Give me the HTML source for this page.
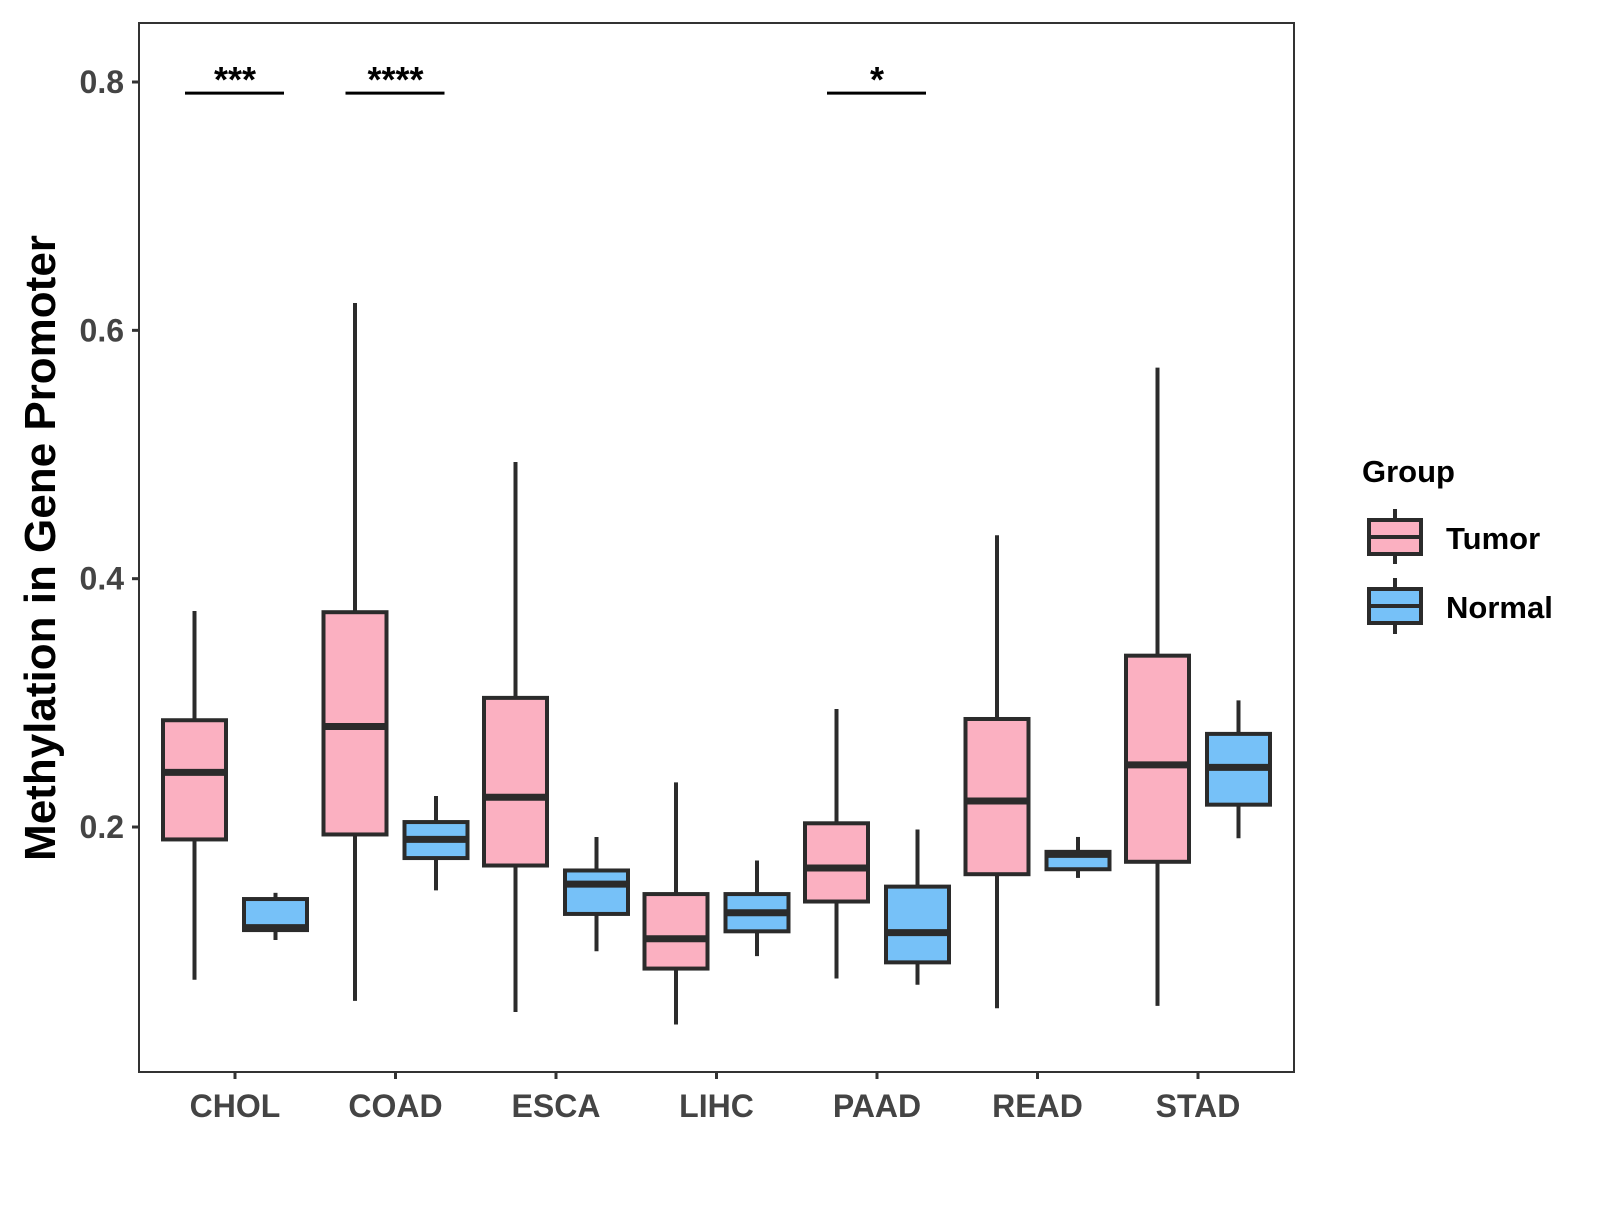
<!DOCTYPE html>
<html><head><meta charset="utf-8"><style>
body{margin:0;background:#fff}
svg text{font-family:"Liberation Sans",Arial,sans-serif;font-weight:bold}
</style></head><body>
<svg id="chart" width="1600" height="1200">
<rect x="139" y="23" width="1155" height="1049" fill="none" stroke="#333" stroke-width="2"/>
<g id="marks"></g>
<text transform="translate(55,548) rotate(-90)" text-anchor="middle" font-size="44" fill="#000">Methylation in Gene Promoter</text>
<g>
<text x="1362" y="482" font-size="31" fill="#000">Group</text>
<g>
<line x1="1395" y1="509" x2="1395" y2="564" stroke="#2b2b2b" stroke-width="4"/>
<rect x="1369" y="520" width="52" height="34" fill="#FBB0C1" stroke="#2b2b2b" stroke-width="4"/>
<line x1="1369" y1="537" x2="1421" y2="537" stroke="#2b2b2b" stroke-width="4"/>
<text x="1446" y="549" font-size="31" fill="#000">Tumor</text></g>
<g>
<line x1="1395" y1="578" x2="1395" y2="634" stroke="#2b2b2b" stroke-width="4"/>
<rect x="1369" y="589" width="52" height="34" fill="#76C1F8" stroke="#2b2b2b" stroke-width="4"/>
<line x1="1369" y1="606" x2="1421" y2="606" stroke="#2b2b2b" stroke-width="4"/>
<text x="1446" y="618" font-size="31" fill="#000">Normal</text></g>
</g>
</svg>
<script>
const categories=["CHOL","COAD","ESCA","LIHC","PAAD","READ","STAD"];
const tumorStats=[[0.077,0.190,0.244,0.286,0.374],[0.060,0.194,0.281,0.373,0.622],[0.051,0.169,0.224,0.304,0.494],[0.041,0.086,0.110,0.146,0.236],[0.078,0.140,0.167,0.203,0.295],[0.054,0.162,0.221,0.287,0.435],[0.056,0.172,0.250,0.338,0.570]];
const normalStats=[[0.109,0.117,0.119,0.142,0.147],[0.149,0.175,0.190,0.204,0.225],[0.100,0.130,0.154,0.165,0.192],[0.096,0.116,0.131,0.146,0.173],[0.073,0.091,0.115,0.152,0.198],[0.159,0.166,0.178,0.180,0.192],[0.191,0.218,0.248,0.275,0.302]];
const yTicks=[0.2,0.4,0.6,0.8];
const sigLabels=["***","****","","","*","",""];
const sigLevel=0.791;
const NS="http://www.w3.org/2000/svg";
const g=document.getElementById('marks');
function yS(v){return 82+(0.8-v)*1241.7;}
function xS(i){return 235+i*160.5;}
function mk(t,a){const e=document.createElementNS(NS,t);for(const k in a)e.setAttribute(k,a[k]);g.appendChild(e);return e;}
yTicks.forEach(v=>{
 const l=mk('line',{x1:132,x2:139,y1:yS(v),y2:yS(v),stroke:'#333','stroke-width':3});
 
 
 const t=mk('text',{x:124,y:yS(v)+11,'text-anchor':'end','font-size':32,fill:'#444'});t.textContent=v.toFixed(1);
 
 
});
function box(cx,s,fill,name){
 const w=63;
 const wh=mk('line',{x1:cx,x2:cx,y1:yS(s[4]),y2:yS(s[0]),stroke:'#2b2b2b','stroke-width':4});
 
 
 const r=mk('rect',{x:cx-w/2,y:yS(s[3]),width:w,height:yS(s[1])-yS(s[3]),fill:fill,stroke:'#2b2b2b','stroke-width':4});
 
 
 const m=mk('line',{x1:cx-w/2,x2:cx+w/2,y1:yS(s[2]),y2:yS(s[2]),stroke:'#2b2b2b','stroke-width':7});
 
 
}
categories.forEach((c,i)=>{
 const cx=xS(i);
 box(cx-40.5,tumorStats[i],'#FBB0C1','tumor-'+c.toLowerCase());
 box(cx+40.5,normalStats[i],'#76C1F8','normal-'+c.toLowerCase());
 const tk=mk('line',{x1:cx,x2:cx,y1:1072,y2:1079,stroke:'#333','stroke-width':3});
 
 
 const t=mk('text',{x:cx,y:1117,'text-anchor':'middle','font-size':32,fill:'#444'});t.textContent=c;
 
 
 if(sigLabels[i]){
  const sl=mk('line',{x1:cx-50,x2:cx+49,y1:yS(sigLevel),y2:yS(sigLevel),stroke:'#000','stroke-width':3});
  
  
  const st=mk('text',{x:cx,y:yS(sigLevel)-1,'text-anchor':'middle','font-size':36,fill:'#000'});st.textContent=sigLabels[i];
  
  
 }
});
</script>
</body></html>
